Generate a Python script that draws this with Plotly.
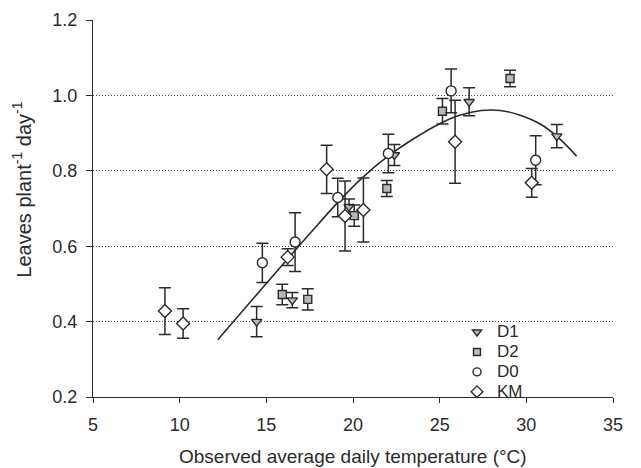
import plotly.graph_objects as go

# ---- data ----
d1_x = [14.44, 16.50, 19.77, 22.39, 26.70, 31.76]
d1_y = [0.400, 0.457, 0.705, 0.842, 0.983, 0.892]
d1_e = [0.040, 0.020, 0.020, 0.028, 0.037, 0.031]

d2_x = [15.92, 17.39, 20.07, 21.95, 25.16, 29.06]
d2_y = [0.472, 0.459, 0.681, 0.753, 0.958, 1.045]
d2_e = [0.027, 0.028, 0.028, 0.021, 0.034, 0.022]

d0_x = [14.77, 16.66, 19.12, 22.04, 25.66, 30.54]
d0_y = [0.556, 0.611, 0.729, 0.846, 1.012, 0.828]
d0_e = [0.052, 0.078, 0.051, 0.051, 0.058, 0.065]

km_x = [9.15, 10.20, 16.23, 18.48, 19.54, 20.60, 25.89, 30.31]
km_y = [0.428, 0.395, 0.571, 0.804, 0.680, 0.696, 0.877, 0.768]
km_e = [0.062, 0.039, 0.022, 0.064, 0.093, 0.085, 0.110, 0.038]

fit_x = [12.2, 14.0, 16.2, 17.5, 19.1, 20.5, 22.0, 23.5, 25.0, 26.2, 27.4, 28.5, 29.6, 30.8, 31.8, 32.9]
fit_y = [0.352, 0.448, 0.565, 0.633, 0.715, 0.780, 0.838, 0.885, 0.925, 0.948, 0.960, 0.960, 0.948, 0.924, 0.890, 0.839]

x_ticks = [5, 10, 15, 20, 25, 30, 35]
y_ticks = [0.2, 0.4, 0.6, 0.8, 1.0, 1.2]

INK = "#2b2b2b"
FONT = "Liberation Sans, Arial, sans-serif"

fig = go.Figure()

fig.add_trace(go.Scatter(x=fit_x, y=fit_y, mode="lines", line=dict(color=INK, width=1.6, shape="spline"),
                         showlegend=False, hoverinfo="skip"))

def err(e):
    return dict(type="data", array=e, visible=True, color=INK, thickness=1.5, width=6)

series = [
    ("D1", d1_x, d1_y, d1_e, "triangle-down", "#b8b8b8", 9, 8),
    ("D2", d2_x, d2_y, d2_e, "square", "#b8b8b8", 8, 7),
    ("D0", d0_x, d0_y, d0_e, "circle", "white", 10, 8),
    ("KM", km_x, km_y, km_e, "diamond", "white", 10, 9),
]
for name, xs, ys, es, sym, fill, size, lsize in series:
    fig.add_trace(go.Scatter(
        x=xs, y=ys, mode="markers", name=name, showlegend=False,
        error_y=err(es),
        marker=dict(symbol=sym, color=fill, size=size, line=dict(color=INK, width=1.4)),
    ))
# legend keys (smaller symbols, as in the reference legend)
for name, xs, ys, es, sym, fill, size, lsize in series:
    fig.add_trace(go.Scatter(
        x=[None], y=[None], mode="markers", showlegend=True,
        name="<span style='font-size:17px'>" + name + "</span>",
        marker=dict(symbol=sym, color=fill, size=lsize, line=dict(color=INK, width=1.4)),
    ))

fig.update_layout(
    width=633, height=460,
    margin=dict(l=85, r=28, t=12, b=71),
    paper_bgcolor="white", plot_bgcolor="white",
    font=dict(family=FONT, size=18, color=INK),
    legend=dict(x=0.70, y=0.212, xanchor="left", yanchor="top", bgcolor="rgba(0,0,0,0)",
                font=dict(size=13), tracegroupgap=0, itemwidth=30),
    annotations=[
        dict(text="Leaves plant<sup>-1</sup> day<sup>-1</sup>", textangle=-90,
             xref="paper", yref="paper", x=0, y=0.55, xanchor="center", yanchor="middle",
             xshift=-71, showarrow=False, font=dict(size=20)),
        dict(text="Observed average daily temperature (°C)",
             xref="paper", yref="paper", x=0.5, y=0, xanchor="center", yanchor="middle",
             yshift=-59, showarrow=False, font=dict(size=19)),
    ],
)
fig.update_xaxes(
    range=[5, 35], tickvals=x_ticks, ticks="outside", ticklen=5, tickwidth=1.3, tickcolor=INK,
    showline=True, linecolor=INK, linewidth=1.3, showgrid=False, zeroline=False,
    ticklabelstandoff=6, automargin=False,
)
fig.update_yaxes(
    range=[0.2, 1.2], tickvals=y_ticks, tickformat=".1f", ticks="outside", ticklen=6, tickwidth=1.3,
    tickcolor=INK, showline=True, linecolor=INK, linewidth=1.3,
    showgrid=True, gridcolor="#444444", griddash="1px,2px", gridwidth=1, zeroline=False,
    ticklabelstandoff=5, automargin=False,
)

fig.write_html("out.html")
